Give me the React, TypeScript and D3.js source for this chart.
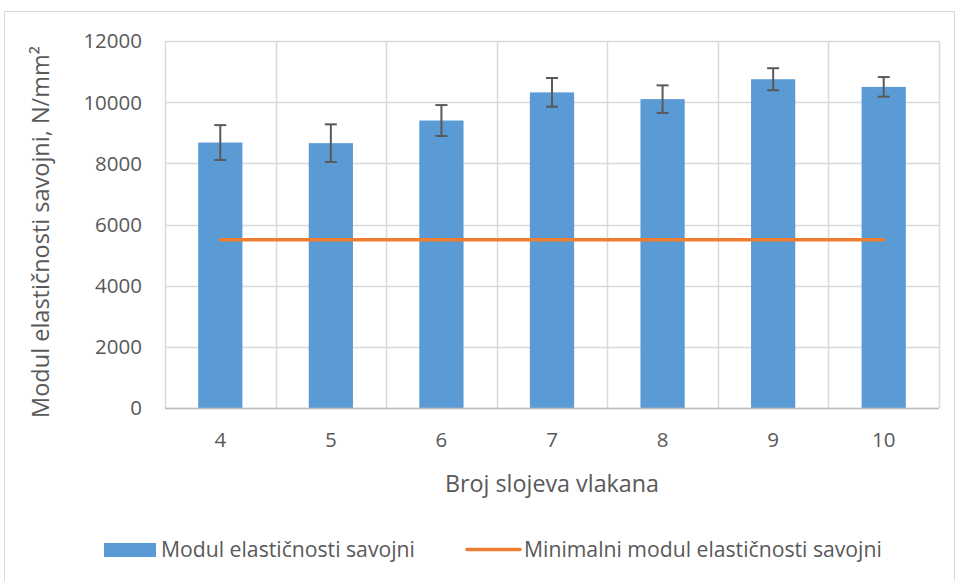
import React, { useRef, useEffect } from 'react';
import * as d3 from 'd3';

// values
const categories = ['4', '5', '6', '7', '8', '9', '10'];
const modulValues = [8680, 8660, 9400, 10320, 10100, 10750, 10500];
const modulErrors = [570, 615, 505, 470, 450, 360, 320];
const minimalniModul = [5500, 5500, 5500, 5500, 5500, 5500, 5500];
const yTicks = [0, 2000, 4000, 6000, 8000, 10000, 12000];

const seriesNames = ['Modul elastičnosti savojni', 'Minimalni modul elastičnosti savojni'];

const W = 955;
const H = 581;
const font = '"Open Sans", Lato, sans-serif';
const textColor = '#595959';
const gridColor = '#d9d9d9';
const barColor = '#5b9bd5';
const lineColor = '#ed7d31';

const App: React.FC = () => {
    const svgRef = useRef<SVGSVGElement | null>(null);

    useEffect(() => {
        if (!svgRef.current) return;
        const svg = d3.select(svgRef.current);
        svg.selectAll('*').remove();

        const margin = { top: 41, right: 16, bottom: 173, left: 165 };
        const innerWidth = W - margin.left - margin.right;
        const innerHeight = H - margin.top - margin.bottom;

        // chart frame
        svg.append('rect')
            .attr('x', 4.5)
            .attr('y', 11.5)
            .attr('width', W - 5)
            .attr('height', H - 11)
            .attr('fill', 'white')
            .attr('stroke', gridColor)
            .attr('stroke-width', 1);

        const x = d3.scaleBand().domain(categories).range([0, innerWidth]).paddingInner(0.6).paddingOuter(0.3);
        const xGrid = d3.scaleBand().domain(categories).range([0, innerWidth]);
        const y = d3.scaleLinear().domain([0, 12000]).range([innerHeight, 0]);

        const g = svg.append('g').attr('transform', `translate(${margin.left},${margin.top})`);

        // horizontal grid
        g.selectAll('.hgrid')
            .data(yTicks)
            .enter()
            .append('line')
            .attr('x1', 0)
            .attr('x2', innerWidth)
            .attr('y1', (d) => Math.round(y(d)) + 0.5)
            .attr('y2', (d) => Math.round(y(d)) + 0.5)
            .attr('stroke', gridColor)
            .attr('stroke-width', 1.5);

        // vertical grid
        const vlines = categories.map((c) => xGrid(c)!).concat([innerWidth]);
        g.selectAll('.vgrid')
            .data(vlines)
            .enter()
            .append('line')
            .attr('x1', (d) => Math.round(d) + 0.5)
            .attr('x2', (d) => Math.round(d) + 0.5)
            .attr('y1', 0)
            .attr('y2', innerHeight)
            .attr('stroke', gridColor)
            .attr('stroke-width', 1.5);

        // y tick labels
        g.selectAll('.ylab')
            .data(yTicks)
            .enter()
            .append('text')
            .attr('x', -23)
            .attr('y', (d) => y(d))
            .attr('dy', '0.36em')
            .attr('text-anchor', 'end')
            .attr('font-family', font)
            .attr('font-size', 20.5)
            .attr('fill', textColor)
            .text((d) => String(d));

        // x tick labels
        g.selectAll('.xlab')
            .data(categories)
            .enter()
            .append('text')
            .attr('x', (d) => xGrid(d)! + xGrid.bandwidth() / 2)
            .attr('y', 447 - margin.top)
            .attr('text-anchor', 'middle')
            .attr('font-family', font)
            .attr('font-size', 20.5)
            .attr('fill', textColor)
            .text((d) => d);

        // bars
        g.selectAll('.bar')
            .data(categories)
            .enter()
            .append('rect')
            .attr('x', (d) => x(d)!)
            .attr('y', (d, i) => y(modulValues[i]))
            .attr('width', x.bandwidth())
            .attr('height', (d, i) => innerHeight - y(modulValues[i]))
            .attr('fill', barColor);

        // x axis line
        g.append('line')
            .attr('x1', 0)
            .attr('x2', innerWidth)
            .attr('y1', innerHeight + 0.5)
            .attr('y2', innerHeight + 0.5)
            .attr('stroke', '#bfbfbf')
            .attr('stroke-width', 1.5);

        // error bars
        categories.forEach((c, i) => {
            const cx = x(c)! + x.bandwidth() / 2;
            const top = y(modulValues[i] + modulErrors[i]);
            const bot = y(modulValues[i] - modulErrors[i]);
            const eg = g.append('g').attr('stroke', textColor).attr('stroke-width', 2);
            eg.append('line').attr('x1', cx).attr('x2', cx).attr('y1', top).attr('y2', bot);
            eg.append('line').attr('x1', cx - 6).attr('x2', cx + 6).attr('y1', top).attr('y2', top);
            eg.append('line').attr('x1', cx - 6).attr('x2', cx + 6).attr('y1', bot).attr('y2', bot);
        });

        // minimal line
        const line = d3
            .line<number>()
            .x((d, i) => xGrid(categories[i])! + xGrid.bandwidth() / 2)
            .y((d) => y(d));
        g.append('path')
            .datum(minimalniModul)
            .attr('fill', 'none')
            .attr('stroke', lineColor)
            .attr('stroke-width', 3.5)
            .attr('stroke-linecap', 'round')
            .attr('d', line);

        // axis titles
        svg.append('text')
            .attr('text-anchor', 'middle')
            .attr('transform', `translate(49,232) rotate(-90)`)
            .attr('font-family', font)
            .attr('font-size', 23.5)
            .attr('fill', textColor)
            .text('Modul elastičnosti savojni, N/mm²');

        svg.append('text')
            .attr('text-anchor', 'middle')
            .attr('x', 552)
            .attr('y', 492)
            .attr('font-family', font)
            .attr('font-size', 23.3)
            .attr('fill', textColor)
            .text('Broj slojeva vlakana');

        // legend
        const lg = svg.append('g').attr('font-family', font).attr('font-size', 21.2).attr('fill', textColor);
        lg.append('rect').attr('x', 104).attr('y', 543).attr('width', 52).attr('height', 14).attr('fill', barColor);
        lg.append('text').attr('x', 161).attr('y', 557).text(seriesNames[0]);
        lg.append('line')
            .attr('x1', 467)
            .attr('x2', 520)
            .attr('y1', 549.5)
            .attr('y2', 549.5)
            .attr('stroke', lineColor)
            .attr('stroke-width', 3.5)
            .attr('stroke-linecap', 'round');
        lg.append('text').attr('x', 524).attr('y', 557).text(seriesNames[1]);
    }, []);

    return (
        <svg
            ref={svgRef}
            width={W}
            height={H}
            style={{ position: 'absolute', left: 0, top: 0, background: 'white' }}
        ></svg>
    );
};

export default App;
